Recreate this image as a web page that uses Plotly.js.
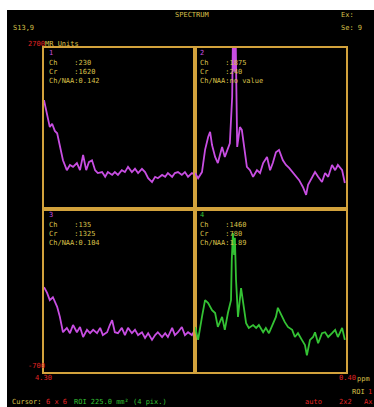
<!DOCTYPE html>
<html><head><meta charset="utf-8">
<script src="https://cdn.plot.ly/plotly-3.0.1.min.js"></script>
<style>
html,body{margin:0;padding:0;background:#ffffff;width:374px;height:407px;overflow:hidden;}
#chart{position:absolute;left:7px;top:10px;width:367px;height:397px;}
</style></head><body>
<div id="chart"></div>
<script>
// ---- data (ppm, MR units) ----
const ppm1 = [4.30,4.22,4.15,4.09,4.02,3.96,3.89,3.81,3.71,3.63,3.55,3.45,3.37,3.29,3.21,3.14,3.06,2.98,2.91,2.80,2.72,2.65,2.54,2.47,2.39,2.29,2.21,2.13,2.03,1.95,1.87,1.77,1.69,1.61,1.51,1.43,1.36,1.25,1.17,1.10,0.99,0.92,0.84,0.74,0.66,0.58,0.48,0.40];
const val1 = [1600,1330,1030,1100,950,900,610,330,120,230,190,270,120,440,120,290,330,120,60,80,-20,80,20,80,20,120,80,190,80,150,60,150,80,-50,-130,-20,-50,20,-20,60,-20,60,80,20,80,-20,60,20];

const ppm2 = [4.30,4.22,4.12,4.04,3.96,3.91,3.86,3.78,3.71,3.60,3.53,3.47,3.40,3.34,3.32,3.28,3.25,3.21,3.14,3.09,3.03,2.96,2.88,2.80,2.70,2.62,2.54,2.44,2.36,2.29,2.21,2.13,2.03,1.95,1.87,1.77,1.69,1.61,1.51,1.43,1.38,1.28,1.20,1.12,1.02,0.94,0.86,0.76,0.68,0.61,0.50,0.43];
const val2 = [60,-50,80,550,820,930,650,400,270,610,400,550,690,1670,2950,2200,2950,610,1030,970,550,190,120,-20,120,60,270,400,120,270,500,550,330,230,170,60,-20,-90,-240,-400,-190,-20,80,-20,-130,60,-20,230,120,230,120,-150];

const ppm3 = [4.30,4.22,4.15,4.07,3.96,3.89,3.81,3.71,3.63,3.55,3.45,3.37,3.29,3.19,3.11,3.03,2.93,2.85,2.78,2.67,2.60,2.54,2.47,2.39,2.29,2.21,2.13,2.03,1.95,1.87,1.77,1.69,1.61,1.51,1.43,1.36,1.25,1.17,1.10,0.99,0.92,0.84,0.74,0.66,0.58,0.48,0.40];
const val3 = [1070,950,800,860,660,450,130,220,110,280,130,240,30,180,110,180,110,220,70,130,280,380,130,110,220,70,220,110,180,70,130,10,110,-30,70,130,30,110,30,220,70,130,240,70,130,70,180];

const ppm4 = [4.30,4.22,4.12,4.04,3.96,3.86,3.78,3.71,3.60,3.53,3.45,3.37,3.35,3.32,3.29,3.27,3.24,3.21,3.19,3.11,3.06,2.98,2.91,2.80,2.72,2.65,2.54,2.47,2.39,2.29,2.21,2.16,2.05,1.98,1.90,1.79,1.72,1.64,1.54,1.46,1.41,1.33,1.25,1.20,1.12,1.02,0.94,0.86,0.76,0.68,0.61,0.50,0.43];
const val4 = [240,-30,450,800,740,590,530,240,450,180,530,800,1640,2200,1740,2100,1220,590,450,1050,800,320,220,280,220,280,130,220,110,280,450,640,450,340,240,180,30,110,-30,-140,-350,-30,30,130,-100,110,130,30,110,180,30,220,-30];

const panelLabels = ["1","2","3","4"];
const chValues = ["230","1875","135","1460"];
const crValues = ["1620","240","1325","780"];
const ratioValues = ["0.142","no value","0.104","1.89"];
const yMin = -700, yMax = 2700;
const xStart = 4.30, xEnd = 0.40;

// ---- styles ----
const GOLD = "#d2a23c", TXT = "#d8c04a", RED = "#e02424", GRN = "#34c234", MAG = "#c84ee2";
const FONT = "DejaVu Sans Mono";
const nb = s => s.replace(/ /g, "\u00a0");

const traces = [
  {x: ppm1, y: val1, xaxis: "x", yaxis: "y", color: MAG},
  {x: ppm2, y: val2, xaxis: "x2", yaxis: "y2", color: MAG},
  {x: ppm3, y: val3, xaxis: "x3", yaxis: "y3", color: MAG},
  {x: ppm4, y: val4, xaxis: "x4", yaxis: "y4", color: GRN}
].map(t => ({type: "scatter", mode: "lines", x: t.x, y: t.y, xaxis: t.xaxis, yaxis: t.yaxis,
  line: {color: t.color, width: 1.8}, hoverinfo: "skip", showlegend: false}));

// helper: place text using original image pixel positions (layout only)
function ann(text, px, py, color, size) {
  return {text: nb(text), xref: "paper", yref: "paper", x: (px - 44) / 302, y: (372 - py) / 324,
    xanchor: "left", yanchor: "middle", showarrow: false,
    font: {family: FONT, size: size || 7, color: color}};
}
const annotations = [
  ann("SPECTRUM", 173, 15, TXT),
  ann("S13,9", 11, 28, TXT),
  ann("Ex:", 339, 15, TXT),
  ann("Se: 9", 339, 28, TXT),
  ann(String(yMax), 26, 44, RED),
  ann("MR Units", 43, 44, TXT),
  ann(String(yMin), 26, 366, RED),
  ann(xStart.toFixed(2), 33, 378, RED),
  ann(xEnd.toFixed(2), 337, 378, RED),
  ann("ppm", 355, 379, TXT),
  ann("ROI", 350, 392, TXT),
  ann("1", 366, 392, RED),
  ann("Cursor:", 10, 402, TXT),
  ann("6 x 6", 44, 402, RED),
  ann("ROI 225.0 mm\u00b2 (4 pix.)", 72, 402, GRN),
  ann("auto", 303, 402, RED),
  ann("2x2", 337, 402, RED),
  ann("Ax", 362, 402, RED)
];
const origins = [[47, 48], [198, 48], [47, 210], [198, 210]];
const labelColors = [MAG, MAG, MAG, GRN];
origins.forEach((o, i) => {
  annotations.push(ann(panelLabels[i], o[0], o[1] + 5, labelColors[i]));
  annotations.push(ann("Ch    :" + chValues[i], o[0], o[1] + 15, TXT));
  annotations.push(ann("Cr    :" + crValues[i], o[0], o[1] + 24, TXT));
  annotations.push(ann("Ch/NAA:" + ratioValues[i], o[0], o[1] + 33, TXT));
});

function xa(dom, anchor) {
  return {domain: dom, anchor: anchor, range: [xStart, xEnd], showgrid: false, zeroline: false,
    showticklabels: false, ticks: "", showline: true, mirror: true, linecolor: GOLD, linewidth: 1.6, fixedrange: true};
}
function ya(dom, anchor) {
  return {domain: dom, anchor: anchor, range: [yMin, yMax], showgrid: false, zeroline: false,
    showticklabels: false, ticks: "", showline: true, mirror: true, linecolor: GOLD, linewidth: 1.6, fixedrange: true};
}
const layout = {
  width: 367, height: 397,
  margin: {l: 37, r: 28, t: 38, b: 35, pad: 0},
  paper_bgcolor: "#000000", plot_bgcolor: "#000000",
  showlegend: false,
  xaxis: xa([0, 0.5], "y"), yaxis: ya([0.503, 1], "x"),
  xaxis2: xa([0.5, 1], "y2"), yaxis2: ya([0.503, 1], "x2"),
  xaxis3: xa([0, 0.5], "y3"), yaxis3: ya([0, 0.503], "x3"),
  xaxis4: xa([0.5, 1], "y4"), yaxis4: ya([0, 0.503], "x4"),
  annotations: annotations
};
Plotly.newPlot("chart", traces, layout, {displayModeBar: false, staticPlot: true});
</script>
</body></html>
